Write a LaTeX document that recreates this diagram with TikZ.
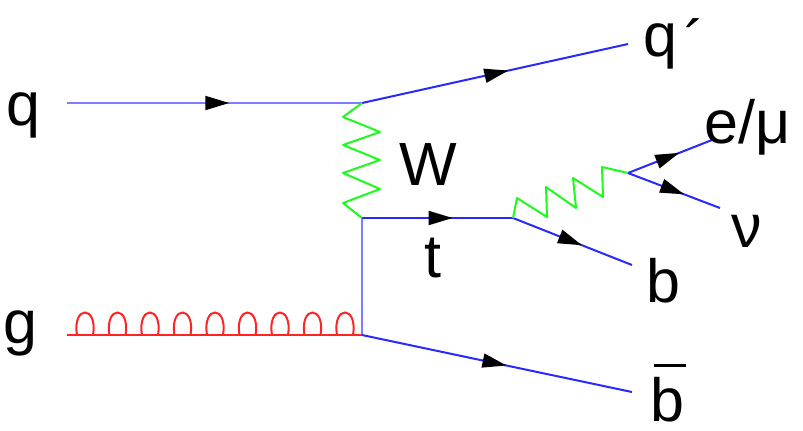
\documentclass[tikz,border=0pt]{standalone}
\usepackage{fontspec}
\setmainfont{Liberation Sans}
\usetikzlibrary{arrows.meta,decorations.markings}
\definecolor{qblue}{RGB}{125,125,255}
\definecolor{fblue}{RGB}{40,40,255}
\definecolor{wgreen}{RGB}{30,250,30}
\definecolor{gred}{RGB}{255,35,35}
\begin{document}
\begin{tikzpicture}[x=0.5pt,y=-0.5pt,
  lbl/.style={anchor=base west, inner sep=0pt, font=\fontsize{30.5}{36}\selectfont},
  arrowmark/.style={postaction={decorate}, decoration={markings, mark=at position #1 with {\arrow[black]{Triangle[length=12pt,width=7pt]}}}},
  lightline/.style={draw=qblue, line width=1pt},
  fermion/.style={draw=fblue, line width=1pt, arrowmark=#1},
  lightfermion/.style={lightline, arrowmark=#1},
  wboson/.style={draw=wgreen, line width=1pt, line join=round},
  gluon/.style={draw=gred, line width=1pt, postaction={decorate},
    decoration={markings, mark=between positions 9pt and 140pt step 16.25pt with
      {\draw[gred, line width=1pt] (-4pt,0pt) .. controls (-6.5pt,15pt) and (6.5pt,15pt) .. (4pt,0pt);}}}
]
\useasboundingbox (0,0) rectangle (803,430);
% vertices and free ends
\coordinate (v1) at (362,103);
\coordinate (v2) at (362,218);
\coordinate (v3) at (362,335);
\coordinate (v4) at (513,218);
\coordinate (v5) at (628,173);
\coordinate (qin) at (67,103);
\coordinate (gin) at (67,335);
\coordinate (qout) at (628,44);
\coordinate (bout) at (632,265);
\coordinate (bbout) at (632,392);
\coordinate (eout) at (712,140);
\coordinate (nuout) at (720,208);
% lines
\draw[lightfermion=0.55] (qin) -- (v1);
\draw[lightline] (v2) -- (v3);
\draw[gluon] (gin) -- (v3);
\draw[fermion=0.55] (v1) -- (qout);
\draw[fermion=0.6] (v2) -- (v4);
\draw[fermion=0.58] (v4) -- (bout);
\draw[fermion=0.535] (v3) -- (bbout);
\draw[fermion=0.61] (v5) -- (eout);
\draw[fermion=0.61] (v5) -- (nuout);
\draw[wboson] (v1) -- (343,117) -- (380,132) -- (343,145) -- (380,160) -- (343,173) -- (380,189) -- (343,203) -- (v2);
\draw[wboson] (v4) -- (517,198) -- (547,217) -- (546,187) -- (576,208) -- (573,178) -- (603,197) -- (602,167) -- (v5);
% labels
\node[lbl] (lq) at (6,125) {q};
\node[lbl] (lg) at (3,343) {g};
\node[lbl] (lw) at (399,185) {W};
\node[lbl] (lt) at (424,277) {t};
\node[lbl] (lqp) at (643,56) {q\hspace{0.12em}\raisebox{-0.12em}{´}};
\node[lbl] (le) at (704,143) {e/μ};
\node[lbl] (lnu) at (731,247) {ν};
\node[lbl] (lb) at (646,302) {b};
\node[lbl] (lbb) at (650,421) {\makebox[0pt][l]{\hspace{0.06em}\rule[0.88em]{0.53em}{0.05em}}b};
\end{tikzpicture}
\end{document}
